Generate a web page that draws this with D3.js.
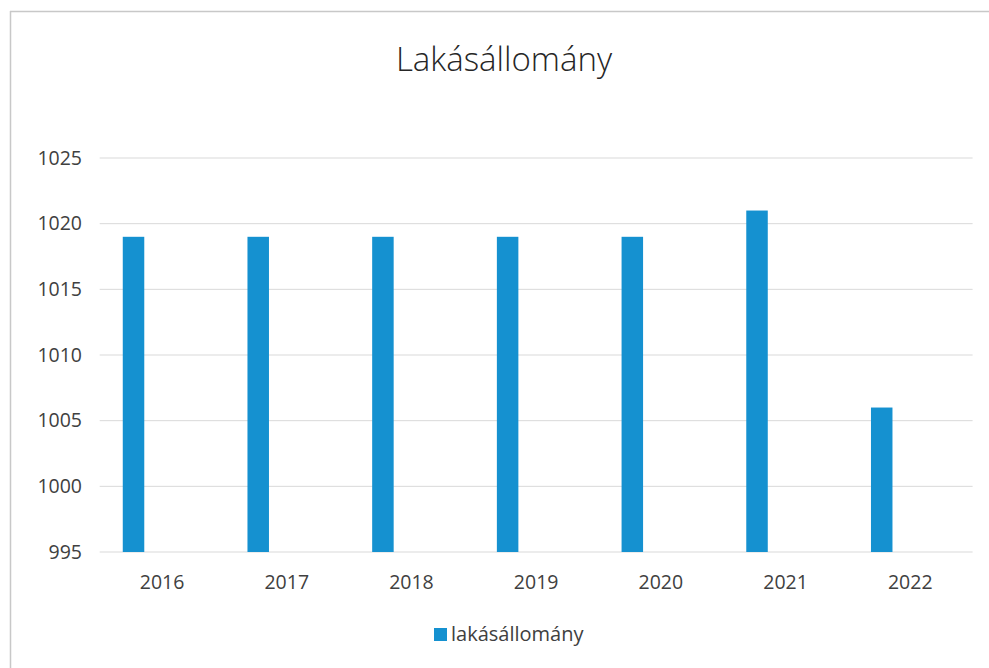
<!DOCTYPE html>
<html><head><meta charset="utf-8">
<script src="https://cdn.jsdelivr.net/npm/d3@7"></script>
<style>body{margin:0;background:#fff;}svg{display:block;}</style>
</head><body>
<svg id="c" width="989" height="668"></svg>
<script>
const categories = ["2016","2017","2018","2019","2020","2021","2022"];
const values = [1019, 1019, 1019, 1019, 1019, 1021, 1006];
const yTicks = [995, 1000, 1005, 1010, 1015, 1020, 1025];
const seriesName = "lakásállomány";
const titleText = "Lakásállomány";

const svg = d3.select("#c");
const font = "'Open Sans', 'Noto Sans', sans-serif";
const color = "#1591d0";

// frame
svg.append("line").attr("x1",10).attr("x2",989).attr("y1",11.5).attr("y2",11.5).attr("stroke","#c8c8c8").attr("stroke-width",1.5);
svg.append("line").attr("x1",10.5).attr("x2",10.5).attr("y1",11).attr("y2",668).attr("stroke","#c8c8c8").attr("stroke-width",1.5);

const x = d3.scaleBand().domain(categories).range([99.7, 972.6]).padding(0);
const y = d3.scaleLinear().domain([995, 1025]).range([552, 158]);

// gridlines
svg.append("g").selectAll("line").data(yTicks).join("line")
  .attr("x1", 99.7).attr("x2", 972.6)
  .attr("y1", d => y(d)).attr("y2", d => y(d))
  .attr("stroke", "#d9d9d9").attr("stroke-width", 1);

// y axis labels
const yAxis = d3.axisLeft(y).tickValues(yTicks).tickSize(0).tickPadding(0).tickFormat(d3.format("d"));
const gy = svg.append("g").attr("transform","translate(82,0)").call(yAxis);
gy.select(".domain").remove();
gy.selectAll("text").attr("font-family",font).attr("font-size",19.5).attr("fill","#404040");

// x axis labels
const xAxis = d3.axisBottom(x).tickSize(0).tickPadding(0);
const gx = svg.append("g").attr("transform","translate(0,575)").call(xAxis);
gx.select(".domain").remove();
gx.selectAll("text").attr("font-family",font).attr("font-size",19.5).attr("fill","#404040");

// bars (offset left within category, as in a clustered chart)
const bw = 21.5;
svg.append("g").selectAll("rect").data(values).join("rect")
  .attr("x", (d,i) => x(categories[i]) + x.bandwidth()*0.185)
  .attr("width", bw)
  .attr("y", d => y(d))
  .attr("height", d => y(995) - y(d))
  .attr("fill", color);

// title
svg.append("text").attr("x", 504).attr("y", 71).attr("text-anchor","middle")
  .attr("font-family",font).attr("font-size",33).attr("font-weight",300).attr("fill","#262626")
  .text(titleText);

// legend
const lg = svg.append("g").attr("transform","translate(434,636)");
lg.append("rect").attr("x",0).attr("y",-8).attr("width",13).attr("height",13).attr("fill",color);
lg.append("text").attr("x",17).attr("y",5).attr("font-family",font).attr("font-size",20).attr("fill","#404040").text(seriesName);
</script>
</body></html>
